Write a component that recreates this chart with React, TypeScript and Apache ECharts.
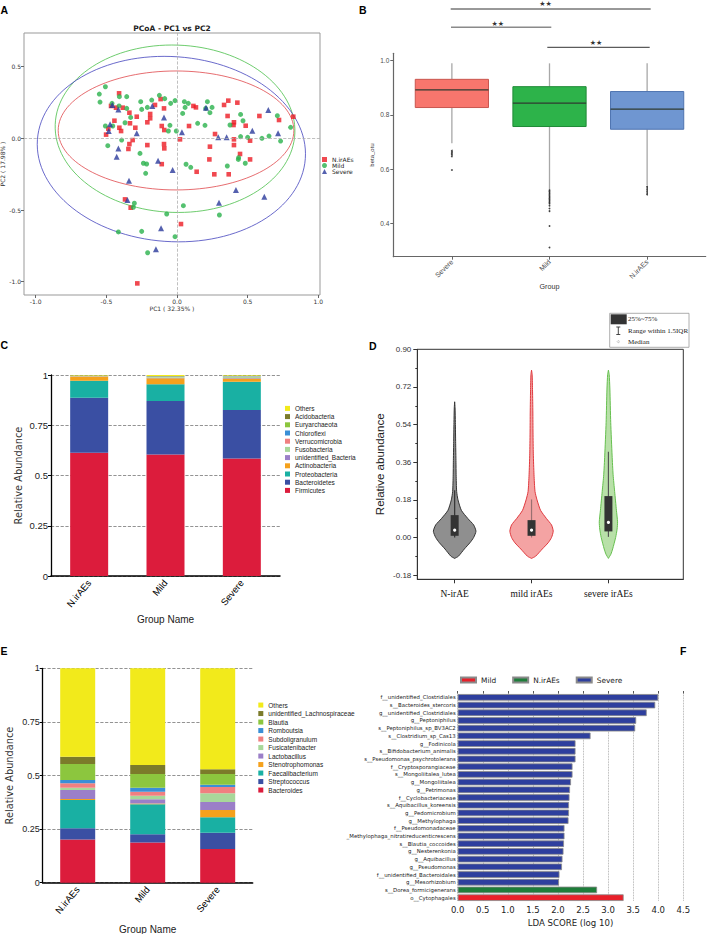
import React, { useEffect, useRef } from "react";
import * as echarts from "echarts";

// ================= Panel A : PCoA =================
const pcoaNirAEs: number[][] = [
  [-0.41, 0.314], [-0.467, 0.226], [-0.432, 0.214], [-0.384, 0.214], [-0.337, 0.179], [-0.285, 0.151],
  [-0.19, 0.17], [-0.19, 0.14], [-0.21, 0.112], [-0.156, 0.233], [-0.116, 0.274], [-0.092, 0.209],
  [-0.443, 0.123], [-0.486, 0.067], [-0.502, 0.026], [-0.408, 0.074], [-0.396, 0.051], [-0.333, 0.105],
  [-0.295, 0.074], [-0.314, -0.012], [-0.337, -0.04], [-0.344, -0.074], [-0.21, -0.047], [-0.108, 0.086],
  [-0.09, 0.058], [-0.092, -0.04], [-0.09, -0.07], [-0.108, -0.18], [0.021, -0.007], [0.085, 0.086],
  [0.116, 0.226], [0.134, 0.216], [0.139, -0.233], [0.264, -0.251], [0.233, -0.058], [0.229, -0.147],
  [0.269, 0.03], [0.333, 0.233], [0.363, 0.263], [0.358, 0.156], [0.4, 0.093], [0.403, 0.112],
  [0.427, 0.249], [0.366, -0.251], [0.403, -0.007], [0.403, -0.047], [0.446, -0.109], [0.486, 0.088],
  [0.517, -0.016], [0.517, -0.147], [0.583, 0.156], [0.722, 0.128], [0.823, 0.151], [-0.368, -0.426],
  [-0.328, -0.484], [0.028, -0.598], [-0.281, -1.012],
];
const pcoaMild: number[][] = [
  [-0.55, 0.309], [-0.507, 0.36], [-0.545, 0.253], [-0.46, 0.244], [-0.408, 0.291], [-0.356, 0.291],
  [-0.41, 0.226], [-0.356, 0.209], [-0.328, 0.146], [-0.368, 0.109], [-0.507, 0.086], [-0.455, 0.086],
  [-0.49, -0.051], [-0.392, -0.012], [-0.257, 0.256], [-0.25, 0.202], [-0.21, 0.216], [-0.179, 0.267],
  [-0.125, 0.3], [-0.087, 0.277], [-0.045, 0.244], [-0.014, 0.263], [0.052, 0.256], [0.08, 0.244],
  [0.057, 0.216], [0.04, 0.174], [0.215, 0.256], [0.203, 0.209], [0.248, 0.216], [0.233, 0.179],
  [0.146, 0.105], [0.198, 0.091], [-0.05, 0.091], [-0.061, 0.051], [-0.005, 0.051], [-0.262, -0.105],
  [-0.238, -0.174], [-0.215, -0.179], [-0.222, -0.244], [0.064, -0.181], [0.097, -0.202], [0.045, -0.47],
  [-0.302, -0.453], [-0.309, -0.481], [-0.073, -0.528], [-0.25, -0.649], [-0.415, -0.653], [-0.208, -0.798],
  [-0.014, -0.686], [0.3, -0.535], [0.375, 0.093], [0.45, 0.167], [0.467, 0.123], [0.45, 0.012],
  [0.5, 0.007], [0.483, -0.174], [0.436, -0.135], [0.434, -0.147], [0.356, -0.193], [0.601, 0.0],
  [0.651, 0.016], [0.71, 0.158], [0.733, -0.019], [0.804, 0.077],
];
const pcoaSevere: number[][] = [
  [-0.458, 0.233], [-0.415, 0.202], [-0.175, 0.226], [-0.092, 0.146], [-0.474, 0.098], [-0.483, 0.051],
  [-0.285, 0.035], [-0.415, -0.07], [-0.427, -0.128], [-0.134, -0.156], [-0.031, -0.221], [0.035, 0.042],
  [0.205, 0.214], [0.292, 0.007], [0.351, 0.007], [0.533, 0.053], [0.646, 0.198], [0.715, 0.035],
  [-0.34, -0.295], [-0.351, -0.43], [-0.113, -0.628], [-0.149, -0.774], [0.297, -0.449], [0.417, -0.36],
  [0.618, -0.407],
];
// confidence ellipses: [centerX, centerY, radiusX, radiusY, rotationDeg]
const pcoaEllipses: number[][] = [
  [-0.007, 0.055, 0.834, 0.415, 0],
  [-0.014, 0.067, 0.849, 0.584, -2],
  [-0.04, -0.075, 0.95, 0.645, -4],
];
const pcoaXTicks = [-1, -0.5, 0, 0.5, 1];
const pcoaYTicks = [-1, -0.5, 0, 0.5];

// ================= Panel B : beta diversity boxplot =================
const betaGroups = ["Severe", "Mild", "N.irAEs"];
// [x, lowerWhisker, q1, median, q3, upperWhisker]
const betaBoxes: number[][] = [
  [1, 0.695, 0.827, 0.892, 0.931, 0.99],
  [2, 0.523, 0.757, 0.843, 0.904, 0.99],
  [3, 0.541, 0.747, 0.821, 0.886, 0.99],
];
const betaOutliers: number[][] = [
  [1, 0.668], [1, 0.663], [1, 0.658], [1, 0.653], [1, 0.647], [1, 0.597],
  [2, 0.522], [2, 0.517], [2, 0.512], [2, 0.507], [2, 0.502], [2, 0.497], [2, 0.492], [2, 0.487],
  [2, 0.482], [2, 0.477], [2, 0.472], [2, 0.465], [2, 0.455], [2, 0.445], [2, 0.39], [2, 0.311],
  [3, 0.536], [3, 0.53], [3, 0.524], [3, 0.518], [3, 0.512], [3, 0.506],
];
const betaYTicks = [0.4, 0.6, 0.8, 1.0];

// ================= Panel C : phylum composition =================
const groupNames = ["N.irAEs", "Mild", "Severe"];
const phylumNames = [
  "Firmicutes", "Bacteroidetes", "Proteobacteria", "Actinobacteria", "unidentified_Bacteria",
  "Fusobacteria", "Verrucomicrobia", "Chloroflexi", "Euryarchaeota", "Acidobacteria", "Others",
];
const phylumNirAEs = [0.613, 0.274, 0.085, 0.021, 0.001, 0.001, 0.0005, 0.0005, 0.0005, 0.0005, 0.003];
const phylumMild = [0.605, 0.266, 0.083, 0.03, 0.002, 0.004, 0.001, 0.001, 0.002, 0.001, 0.005];
const phylumSevere = [0.585, 0.241, 0.141, 0.016, 0.002, 0.008, 0.001, 0.001, 0.001, 0.001, 0.003];

// ================= Panel D : violin =================
const violinGroups = ["N-irAE", "mild irAEs", "severe irAEs"];
// density profile: [value, halfWidth (x-axis units)]
const violinNirAE: number[][] = [
  [-0.1, 0], [-0.09, 0.048], [-0.055, 0.126], [-0.025, 0.199], [0, 0.247], [0.03, 0.277], [0.06, 0.247],
  [0.09, 0.173], [0.13, 0.087], [0.18, 0.043], [0.22, 0.026], [0.3, 0.019], [0.36, 0.017], [0.45, 0.013],
  [0.55, 0.009], [0.62, 0.005], [0.649, 0],
];
const violinMild: number[][] = [
  [-0.1, 0], [-0.09, 0.052], [-0.055, 0.14], [-0.025, 0.217], [0, 0.26], [0.03, 0.282], [0.06, 0.26],
  [0.09, 0.195], [0.13, 0.117], [0.18, 0.071], [0.22, 0.045], [0.3, 0.032], [0.4, 0.023], [0.5, 0.019],
  [0.6, 0.017], [0.7, 0.013], [0.78, 0.008], [0.8, 0],
];
const violinSevere: number[][] = [
  [-0.1, 0], [-0.08, 0.032], [-0.055, 0.055], [0, 0.094], [0.04, 0.113], [0.075, 0.119], [0.13, 0.104],
  [0.22, 0.081], [0.3, 0.061], [0.39, 0.048], [0.55, 0.03], [0.71, 0.019], [0.78, 0.01], [0.8, 0],
];
// [x, lowerWhisker, q1, median, q3, upperWhisker]
const violinStats: number[][] = [
  [1, 0.0, 0.008, 0.035, 0.107, 0.226],
  [2, 0.0, 0.008, 0.035, 0.083, 0.182],
  [3, 0.003, 0.029, 0.072, 0.198, 0.41],
];
const violinYTicks = [-0.18, 0, 0.18, 0.36, 0.54, 0.72, 0.9];
const violinYMinorTicks = [-0.09, 0.09, 0.27, 0.45, 0.63, 0.81];

// ================= Panel E : genus composition =================
const genusNames = [
  "Bacteroides", "Streptococcus", "Faecalibacterium", "Stenotrophomonas", "Lactobacillus",
  "Fusicatenibacter", "Subdoligranulum", "Romboutsia", "Blautia", "unidentified_Lachnospiraceae", "Others",
];
const genusNirAEs = [0.202, 0.052, 0.132, 0.004, 0.042, 0.011, 0.021, 0.015, 0.075, 0.034, 0.412];
const genusMild = [0.187, 0.039, 0.14, 0.003, 0.02, 0.017, 0.018, 0.019, 0.064, 0.042, 0.451];
const genusSevere = [0.157, 0.076, 0.072, 0.034, 0.037, 0.041, 0.029, 0.011, 0.05, 0.022, 0.471];

// ================= Panel F : LEfSe LDA =================
const ldaTaxa = [
  "f__unidentified_Clostridiales", "s__Bacteroides_stercoris", "g__unidentified_Clostridiales",
  "g__Peptoniphilus", "s__Peptoniphilus_sp_BV3AC2", "s__Clostridium_sp_Cas13", "g__Fodinicola",
  "s__Bifidobacterium_animalis", "s__Pseudomonas_psychrotolerans", "f__Cryptosporangiaceae",
  "s__Mongoliitalea_lutea", "g__Mongoliitalea", "g__Petrimonas", "f__Cyclobacteriaceae",
  "s__Aquibacillus_koreensis", "g__Pedomicrobium", "g__Methylophaga", "f__Pseudomonadaceae",
  "_Methylophaga_nitratireducenticrescens", "s__Blautia_coccoides", "g__Nesterenkonia", "g__Aquibacillus",
  "g__Pseudomonas", "f__unidentified_Bacteroidales", "g__Mesorhizobium", "s__Dorea_formicigenerans",
  "o__Cytophagales",
];
const ldaScore = [
  4.0, 3.94, 3.77, 3.56, 3.54, 2.65, 2.35, 2.35, 2.35, 2.29, 2.29, 2.26, 2.24, 2.23, 2.22, 2.22, 2.21,
  2.13, 2.13, 2.12, 2.11, 2.09, 2.08, 2.03, 2.02, 2.78, 3.31,
];
const ldaGroup = [
  "Severe", "Severe", "Severe", "Severe", "Severe", "Severe", "Severe", "Severe", "Severe", "Severe",
  "Severe", "Severe", "Severe", "Severe", "Severe", "Severe", "Severe", "Severe", "Severe", "Severe",
  "Severe", "Severe", "Severe", "Severe", "Severe", "N.irAEs", "Mild",
];
const ldaGroupOrder = ["Mild", "N.irAEs", "Severe"];

// ================= styles =================
const SANS = '"Liberation Sans", Arial, sans-serif';
const DEJAVU = '"DejaVu Sans", sans-serif';
const NARROW = '"Liberation Sans Narrow", "Liberation Sans", sans-serif';
const SERIF = '"Liberation Serif", "Times New Roman", serif';

const ellipseColors = ["#e0474b", "#4cc04c", "#4a4ac0"];
const betaFill = ["#f8766d", "#2db34a", "#6f96d1"];
const betaStroke = ["#c9564f", "#1f8a36", "#4f74b0"];
const phylumColors = ["#dc1c3c", "#3a4fa3", "#19b0a3", "#f5a11c", "#9b7fc8", "#a8d89a", "#f08080", "#3a8fd6", "#8cc63e", "#7b7b2a", "#f2ea1b"];
const genusColors = ["#dc1c3c", "#3a4fa3", "#19b0a3", "#f5a11c", "#9b7fc8", "#a8d89a", "#f08080", "#3a8fd6", "#8cc63e", "#7b7b2a", "#f2ea1b"];
const violinFill = ["#8f8f8f", "#f4a3a3", "#b8e0a8"];
const violinStroke = ["#333333", "#e0393e", "#66c04f"];
const violinWhisker = ["#333333", "#9a7070", "#555555"];
const ldaColors: Record<string, string> = { Mild: "#e8202a", "N.irAEs": "#1e7d3a", Severe: "#2e3f9e" };

function buildOption(): any {
  const violinProfiles = [violinNirAE, violinMild, violinSevere];
  const phylumByGroup = [phylumNirAEs, phylumMild, phylumSevere];
  const genusByGroup = [genusNirAEs, genusMild, genusSevere];

  const axisText = (size: number, family = SANS, color = "#333") => ({ fontSize: size, fontFamily: family, color });

  const series: any[] = [];

  // ---- A ----
  series.push({
    type: "custom", xAxisIndex: 0, yAxisIndex: 0, silent: true, z: 1, data: pcoaEllipses,
    renderItem: (params: any, api: any) => {
      const c = api.coord([api.value(0), api.value(1)]);
      const s = api.size([api.value(2), api.value(3)]);
      return {
        type: "ellipse", x: c[0], y: c[1], rotation: (api.value(4) * Math.PI) / 180,
        shape: { cx: 0, cy: 0, rx: s[0], ry: s[1] },
        style: { fill: "none", stroke: ellipseColors[params.dataIndex], lineWidth: 0.8 },
      };
    },
  });
  series.push({
    type: "scatter", name: "N.irAEs", xAxisIndex: 0, yAxisIndex: 0, symbol: "rect", symbolSize: 4.6,
    itemStyle: { color: "#ec1c24" }, data: pcoaNirAEs, z: 3,
    markLine: {
      silent: true, symbol: ["none", "none"], label: { show: false },
      lineStyle: { type: "dashed", color: "#b0b0b0", width: 0.8 },
      data: [{ xAxis: 0 }, { yAxis: 0 }],
    },
  });
  series.push({ type: "scatter", name: "Mild", xAxisIndex: 0, yAxisIndex: 0, symbol: "circle", symbolSize: 5, itemStyle: { color: "#2bb24c" }, data: pcoaMild, z: 3 });
  series.push({ type: "scatter", name: "Severe", xAxisIndex: 0, yAxisIndex: 0, symbol: "triangle", symbolSize: 6, itemStyle: { color: "#2b3a9b" }, data: pcoaSevere, z: 3 });

  // ---- B ----
  series.push({
    type: "custom", xAxisIndex: 1, yAxisIndex: 1, data: betaBoxes,
    renderItem: (params: any, api: any) => {
      const i = params.dataIndex;
      const x = api.value(0);
      const lo = api.coord([x, api.value(1)]);
      const q1 = api.coord([x, api.value(2)]);
      const md = api.coord([x, api.value(3)]);
      const q3 = api.coord([x, api.value(4)]);
      const hi = api.coord([x, api.value(5)]);
      const w = api.size([0.75, 0])[0];
      const xl = lo[0] - w / 2;
      return {
        type: "group", children: [
          { type: "line", shape: { x1: hi[0], y1: hi[1], x2: q3[0], y2: q3[1] }, style: { stroke: "#a8a8a8", lineWidth: 1.3 } },
          { type: "line", shape: { x1: q1[0], y1: q1[1], x2: lo[0], y2: lo[1] }, style: { stroke: "#a8a8a8", lineWidth: 1.3 } },
          { type: "rect", shape: { x: xl, y: q3[1], width: w, height: q1[1] - q3[1] }, style: { fill: betaFill[i], stroke: betaStroke[i], lineWidth: 1 } },
          { type: "line", shape: { x1: xl, y1: md[1], x2: xl + w, y2: md[1] }, style: { stroke: "#2f3a30", lineWidth: 1.2 } },
        ],
      };
    },
  });
  series.push({ type: "scatter", xAxisIndex: 1, yAxisIndex: 1, symbolSize: 1.8, itemStyle: { color: "#111" }, data: betaOutliers, silent: true });

  // ---- C ----
  phylumNames.forEach((n, i) => {
    series.push({
      type: "bar", name: "C-" + n, stack: "C", xAxisIndex: 2, yAxisIndex: 2, barWidth: 38,
      itemStyle: { color: phylumColors[i] }, data: phylumByGroup.map((g) => g[i]),
    });
  });

  // ---- D ----
  series.push({
    type: "custom", xAxisIndex: 3, yAxisIndex: 3, data: violinStats,
    renderItem: (params: any, api: any) => {
      const i = params.dataIndex;
      const cx = api.value(0);
      const prof = violinProfiles[i];
      const right = prof.map((p) => api.coord([cx + p[1], p[0]]));
      const left = prof.slice().reverse().map((p) => api.coord([cx - p[1], p[0]]));
      const pts = right.concat(left);
      const lo = api.coord([cx, api.value(1)]);
      const q1 = api.coord([cx, api.value(2)]);
      const md = api.coord([cx, api.value(3)]);
      const q3 = api.coord([cx, api.value(4)]);
      const hi = api.coord([cx, api.value(5)]);
      const bw = api.size([0.104, 0])[0];
      return {
        type: "group", children: [
          { type: "polygon", shape: { points: pts, smooth: 0.2 }, style: { fill: violinFill[i], stroke: violinStroke[i], lineWidth: 1 } },
          { type: "line", shape: { x1: lo[0], y1: lo[1], x2: hi[0], y2: hi[1] }, style: { stroke: violinWhisker[i], lineWidth: 1.2 } },
          { type: "rect", shape: { x: q3[0] - bw / 2, y: q3[1], width: bw, height: q1[1] - q3[1] }, style: { fill: "#333" } },
          { type: "circle", shape: { cx: md[0], cy: md[1], r: 1.6 }, style: { fill: "#fff" } },
        ],
      };
    },
  });

  // ---- E ----
  genusNames.forEach((n, i) => {
    series.push({
      type: "bar", name: "E-" + n, stack: "E", xAxisIndex: 4, yAxisIndex: 4, barWidth: 35,
      itemStyle: { color: genusColors[i] }, data: genusByGroup.map((g) => g[i]),
    });
  });

  // ---- F ----
  ldaGroupOrder.forEach((g) => {
    series.push({
      type: "bar", name: "F-" + g, xAxisIndex: 5, yAxisIndex: 5, barGap: "-100%", barCategoryGap: "14%",
      itemStyle: { color: ldaColors[g], borderColor: "#8a8a8a", borderWidth: 0.8 },
      data: ldaScore.map((v, i) => (ldaGroup[i] === g ? v : null)),
    });
  });

  const strip = (n: string) => n.slice(2);
  const noSplit = { show: false };

  return {
    animation: false,
    backgroundColor: "#ffffff",
    textStyle: { fontFamily: SANS },
    grid: [
      { left: 24, top: 33, width: 296, height: 262, show: true, borderColor: "#999", borderWidth: 1, outerBoundsMode: "none" },
      { left: 393.3, top: 53.3, width: 312.4, height: 203.4, outerBoundsMode: "none" },
      { left: 51, top: 375, width: 229, height: 201, outerBoundsMode: "none" },
      { left: 417.3, top: 349.3, width: 266, height: 230, show: true, borderColor: "#333", borderWidth: 1, outerBoundsMode: "none" },
      { left: 42.7, top: 668.3, width: 210, height: 214.4, outerBoundsMode: "none" },
      { left: 457.7, top: 693.5, width: 225.6, height: 208, outerBoundsMode: "none" },
    ],
    xAxis: [
      {
        gridIndex: 0, type: "value", min: -1.083, max: 1.012,
        axisLine: { show: false, onZero: false },
        axisTick: { customValues: pcoaXTicks, length: 3, lineStyle: { color: "#666" } },
        axisLabel: { customValues: pcoaXTicks, formatter: (v: number) => v.toFixed(1), margin: 3, ...axisText(6, DEJAVU) },
        splitLine: noSplit,
        name: "PC1 ( 32.35% )", nameLocation: "middle", nameGap: 10.5, nameTextStyle: axisText(6, DEJAVU),
      },
      {
        gridIndex: 1, type: "value", min: 0.4, max: 3.6,
        axisLine: { onZero: false, lineStyle: { color: "#666", width: 1.2 } },
        axisTick: { customValues: [1, 2, 3], length: 3, lineStyle: { color: "#666" } },
        axisLabel: { customValues: [1, 2, 3], formatter: (v: number) => betaGroups[Math.round(v) - 1], rotate: 45, margin: 4, ...axisText(7, SANS, "#4d4d4d") },
        splitLine: noSplit,
        name: "Group", nameLocation: "middle", nameGap: 21.6, nameTextStyle: axisText(7.2, SANS, "#333"),
      },
      {
        gridIndex: 2, type: "category", data: groupNames,
        axisLine: { lineStyle: { color: "#000", width: 1.5 } },
        axisTick: { show: false },
        axisLabel: { interval: 0, rotate: 50, margin: 5, ...axisText(9.5, SANS, "#000") },
        name: "Group Name", nameLocation: "middle", nameGap: 38, nameTextStyle: axisText(10, SANS, "#222"),
      },
      {
        gridIndex: 3, type: "value", min: 0.514, max: 3.974,
        axisLine: { onZero: false, lineStyle: { color: "#333" } },
        axisTick: { customValues: [1, 2, 3], length: 4, lineStyle: { color: "#333" } },
        axisLabel: { customValues: [1, 2, 3], formatter: (v: number) => violinGroups[Math.round(v) - 1], margin: 10, ...axisText(9.5, SERIF, "#111") },
        splitLine: noSplit,
      },
      {
        gridIndex: 4, type: "category", data: groupNames,
        axisLine: { lineStyle: { color: "#000", width: 1.5 } },
        axisTick: { show: false },
        axisLabel: { interval: 0, rotate: 50, margin: 5, ...axisText(9.5, SANS, "#000") },
        name: "Group Name", nameLocation: "middle", nameGap: 42, nameTextStyle: axisText(10, SANS, "#222"),
      },
      {
        gridIndex: 5, type: "value", min: 0, max: 4.5, interval: 0.5,
        axisLine: { show: false, onZero: false }, axisTick: { show: false },
        axisLabel: { formatter: (v: number) => v.toFixed(1), margin: 4, ...axisText(8.5, DEJAVU, "#222") },
        splitLine: { show: true, lineStyle: { type: "dotted", color: "#9a9a9a", width: 0.8 } },
        name: "LDA SCORE (log 10)", nameLocation: "middle", nameGap: 17, nameTextStyle: axisText(8.6, DEJAVU, "#222"),
      },
      {
        gridIndex: 5, type: "value", position: "top", min: 0, max: 4.5, interval: 0.5,
        axisLine: { show: false, onZero: false },
        axisTick: { show: true, length: 2.5, lineStyle: { color: "#555" } },
        axisLabel: { show: false }, splitLine: noSplit,
      },
    ],
    yAxis: [
      {
        gridIndex: 0, type: "value", min: -1.093, max: 0.735,
        axisLine: { show: false, onZero: false },
        axisTick: { customValues: pcoaYTicks, length: 3, lineStyle: { color: "#666" } },
        axisLabel: { customValues: pcoaYTicks, formatter: (v: number) => v.toFixed(1), margin: 3, ...axisText(6, DEJAVU) },
        splitLine: noSplit,
        name: "PC2 ( 17.98% )", nameLocation: "middle", nameGap: 19, nameRotate: 90, nameTextStyle: axisText(6, DEJAVU),
      },
      {
        gridIndex: 1, type: "value", min: 0.277, max: 1.027,
        axisLine: { show: true, onZero: false, lineStyle: { color: "#666", width: 1.2 } },
        axisTick: { show: true, customValues: betaYTicks, length: 3, lineStyle: { color: "#666" } },
        axisLabel: { customValues: betaYTicks, formatter: (v: number) => v.toFixed(1), margin: 4, ...axisText(6.5, SANS, "#4d4d4d") },
        splitLine: noSplit,
        name: "beta_otu", nameLocation: "middle", nameGap: 18.6, nameRotate: 90, nameTextStyle: axisText(6, SANS, "#333"),
      },
      {
        gridIndex: 2, type: "value", min: 0, max: 1, interval: 0.25,
        axisLine: { show: true, lineStyle: { color: "#000", width: 1.3 } },
        axisTick: { show: true, length: 3, lineStyle: { color: "#000" } },
        axisLabel: { formatter: (v: number) => String(v), margin: 3, ...axisText(9.5, SANS, "#222") },
        splitLine: { show: true, lineStyle: { type: "dashed", color: "#777", width: 0.8 } },
        name: "Relative Abundance", nameLocation: "middle", nameGap: 28, nameRotate: 90, nameTextStyle: axisText(9.8, DEJAVU, "#333"),
      },
      {
        gridIndex: 3, type: "value", min: -0.2, max: 0.9,
        axisLine: { show: true, onZero: false, lineStyle: { color: "#333" } },
        axisTick: { show: true, customValues: violinYTicks, length: 4, lineStyle: { color: "#333" } },
        axisLabel: { customValues: violinYTicks, formatter: (v: number) => v.toFixed(2), margin: 6, ...axisText(8, SANS, "#333") },
        splitLine: noSplit,
        name: "Relative abundance", nameLocation: "middle", nameGap: 31, nameRotate: 90, nameTextStyle: axisText(11.5, SANS, "#222"),
      },
      {
        gridIndex: 4, type: "value", min: 0, max: 1, interval: 0.25,
        axisLine: { show: true, lineStyle: { color: "#000", width: 1.3 } },
        axisTick: { show: true, length: 3, lineStyle: { color: "#000" } },
        axisLabel: { formatter: (v: number) => String(v), margin: 3, ...axisText(9, SANS, "#222") },
        splitLine: { show: true, lineStyle: { type: "dashed", color: "#777", width: 0.8 } },
        name: "Relative Abundance", nameLocation: "middle", nameGap: 28, nameRotate: 90, nameTextStyle: axisText(9.8, DEJAVU, "#333"),
      },
      {
        gridIndex: 5, type: "category", data: ldaTaxa, inverse: true,
        axisLine: { show: false }, axisTick: { show: false },
        axisLabel: { interval: 0, margin: 2, ...axisText(5.4, DEJAVU, "#222") },
      },
      {
        gridIndex: 3, type: "value", position: "left", offset: 0, min: -0.2, max: 0.9,
        axisLine: { show: false, onZero: false },
        axisTick: { show: true, customValues: violinYMinorTicks, length: 2, lineStyle: { color: "#333" } },
        axisLabel: { show: false, customValues: violinYMinorTicks }, splitLine: noSplit,
      },
    ],
    legend: [
      {
        data: ["N.irAEs", "Mild", "Severe"], orient: "vertical", left: 322, top: 156.5, padding: 0,
        itemWidth: 5, itemHeight: 5, itemGap: 0, selectedMode: false,
        textStyle: { fontSize: 6, lineHeight: 5.8, fontFamily: DEJAVU, color: "#222" },
      },
      {
        data: phylumNames.slice().reverse().map((n) => "C-" + n), formatter: strip, icon: "rect",
        orient: "vertical", left: 285, top: 404.3, padding: 0, itemWidth: 5, itemHeight: 5, itemGap: 0, selectedMode: false,
        textStyle: { fontSize: 6.5, lineHeight: 8.2, fontFamily: NARROW, color: "#222" },
      },
      {
        data: genusNames.slice().reverse().map((n) => "E-" + n), formatter: strip, icon: "rect",
        orient: "vertical", left: 258.3, top: 700.8, padding: 0, itemWidth: 5, itemHeight: 5, itemGap: 0, selectedMode: false,
        textStyle: { fontSize: 6.5, lineHeight: 8.5, fontFamily: NARROW, color: "#222" },
      },
      {
        data: ldaGroupOrder.map((g) => "F-" + g), formatter: strip, icon: "rect",
        orient: "horizontal", left: 460, top: 676.5, padding: 0, itemWidth: 15, itemHeight: 5, itemGap: 16, selectedMode: false,
        textStyle: { fontSize: 7.4, fontFamily: DEJAVU, color: "#222" },
      },
    ],
    graphic: [
      // panel letters
      { type: "text", x: 0.5, y: 10, style: { text: "A", font: 'bold 10.5px "Liberation Sans"', fill: "#000", verticalAlign: "middle" } },
      { type: "text", x: 359, y: 10, style: { text: "B", font: 'bold 10.5px "Liberation Sans"', fill: "#000", verticalAlign: "middle" } },
      { type: "text", x: 0.5, y: 345, style: { text: "C", font: 'bold 10.5px "Liberation Sans"', fill: "#000", verticalAlign: "middle" } },
      { type: "text", x: 369, y: 345.5, style: { text: "D", font: 'bold 10.5px "Liberation Sans"', fill: "#000", verticalAlign: "middle" } },
      { type: "text", x: 0.5, y: 650.5, style: { text: "E", font: 'bold 10.5px "Liberation Sans"', fill: "#000", verticalAlign: "middle" } },
      { type: "text", x: 680, y: 651, style: { text: "F", font: 'bold 10.5px "Liberation Sans"', fill: "#000", verticalAlign: "middle" } },
      // A title
      { type: "text", x: 172, y: 28.5, style: { text: "PCoA - PC1 vs PC2", font: 'bold 7.5px "DejaVu Sans"', fill: "#222", align: "center", verticalAlign: "middle" } },
      // B significance
      { type: "line", shape: { x1: 450.7, y1: 9, x2: 650.7, y2: 9 }, style: { stroke: "#333", lineWidth: 1 } },
      { type: "text", x: 545.5, y: 4.3, style: { text: "★★", font: '7px "DejaVu Sans"', fill: "#333", align: "center", verticalAlign: "middle" } },
      { type: "line", shape: { x1: 451, y1: 27.3, x2: 551.3, y2: 27.3 }, style: { stroke: "#8a8a8a", lineWidth: 1.6 } },
      { type: "text", x: 497.8, y: 23.6, style: { text: "★★", font: '7px "DejaVu Sans"', fill: "#333", align: "center", verticalAlign: "middle" } },
      { type: "line", shape: { x1: 547.3, y1: 47.3, x2: 649.7, y2: 47.3 }, style: { stroke: "#333", lineWidth: 1 } },
      { type: "text", x: 596, y: 43.3, style: { text: "★★", font: '7px "DejaVu Sans"', fill: "#333", align: "center", verticalAlign: "middle" } },
      // D legend box
      { type: "rect", shape: { x: 609.7, y: 313.3, width: 79.3, height: 34 }, style: { fill: "#fff", stroke: "#999", lineWidth: 0.8 } },
      { type: "rect", shape: { x: 610.7, y: 314.3, width: 16, height: 10 }, style: { fill: "#333" } },
      { type: "text", x: 628, y: 319.3, style: { text: "25%~75%", font: '7px "Liberation Serif"', fill: "#222", verticalAlign: "middle" } },
      { type: "line", shape: { x1: 618.3, y1: 327, x2: 618.3, y2: 334.5 }, style: { stroke: "#333", lineWidth: 0.9 } },
      { type: "line", shape: { x1: 616.3, y1: 327, x2: 620.3, y2: 327 }, style: { stroke: "#333", lineWidth: 0.9 } },
      { type: "line", shape: { x1: 616.3, y1: 334.5, x2: 620.3, y2: 334.5 }, style: { stroke: "#333", lineWidth: 0.9 } },
      { type: "text", x: 628, y: 330.7, style: { text: "Range within 1.5IQR", font: '7px "Liberation Serif"', fill: "#222", verticalAlign: "middle" } },
      { type: "circle", shape: { cx: 618.3, cy: 341.7, r: 1 }, style: { fill: "#fff", stroke: "#aaa", lineWidth: 0.6 } },
      { type: "text", x: 628, y: 341.7, style: { text: "Median", font: '7px "Liberation Serif"', fill: "#222", verticalAlign: "middle" } },
    ],
    series,
  };
}

export default function App() {
  const ref = useRef<HTMLDivElement>(null);
  useEffect(() => {
    if (!ref.current) return;
    const chart = echarts.init(ref.current, null, { renderer: "svg", width: 708, height: 934 });
    chart.setOption(buildOption());
    return () => chart.dispose();
  }, []);
  return (
    <div
      ref={ref}
      style={{ position: "absolute", left: 0, top: 0, width: 708, height: 934, background: "#fff" }}
    />
  );
}
